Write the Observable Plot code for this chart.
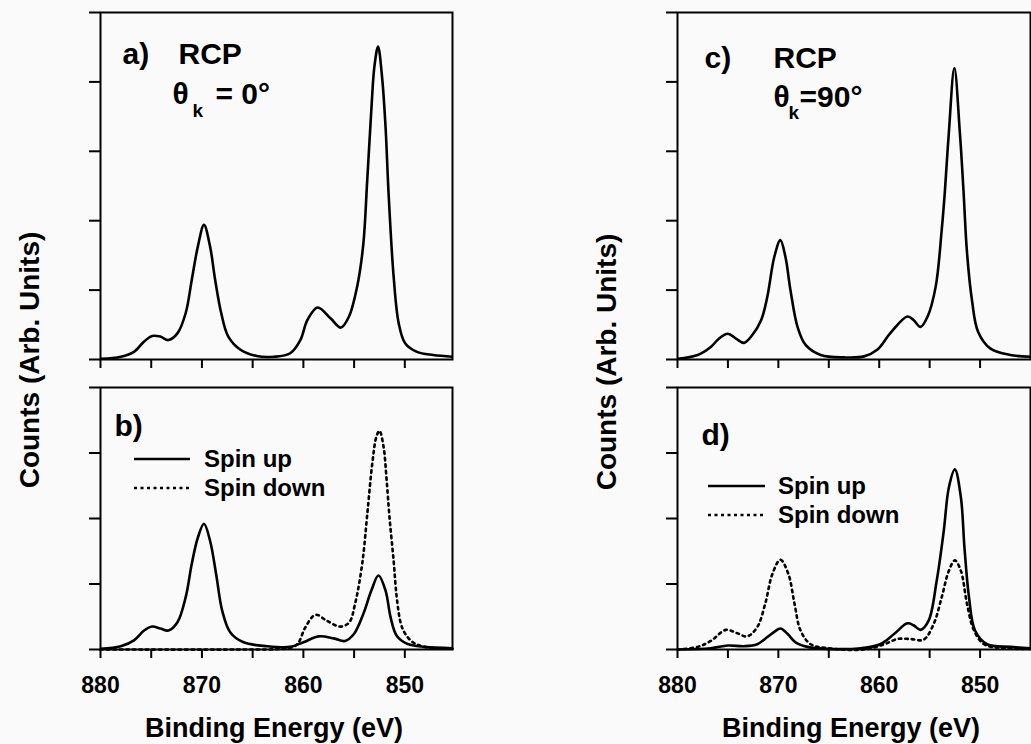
<!DOCTYPE html>
<html><head><meta charset="utf-8">
<script src="https://cdn.jsdelivr.net/npm/d3@7"></script>
<script src="https://cdn.jsdelivr.net/npm/@observablehq/plot@0.6"></script>
<style>
body{margin:0;background:#fafafa;}
#root{position:relative;width:1031px;height:744px;overflow:hidden;}
.panel{position:absolute;}
#overlay{position:absolute;left:0;top:0;pointer-events:none;}
</style></head><body><div id="root"></div>
<script>
// ---------- data (binding energy in eV, counts in arbitrary units) ----------
const xTicks = [880, 875, 870, 865, 860, 855, 850];
const yTicksTop = [0, 1, 2, 3, 4, 5];
const yTicksBottom = [0, 1, 2, 3, 4];

// a) RCP, theta_k = 0
const energyA = [880, 878.0, 876.7, 875.7, 874.9, 874.1, 873.3, 872.4, 871.6, 871.0, 870.4, 869.8, 869.2, 868.7, 868.1, 867.4, 866.2, 864.6, 862.9, 861.3, 860.3, 859.6, 858.6, 857.3, 856.3, 855.5, 854.7, 854.1, 853.7, 853.3, 853.0, 852.64, 852.25, 851.9, 851.6, 851.1, 850.6, 849.95, 848.8, 847.2, 845.3];
const countsA = [0.01, 0.04, 0.11, 0.26, 0.34, 0.33, 0.28, 0.38, 0.67, 1.15, 1.63, 1.94, 1.63, 1.15, 0.67, 0.33, 0.14, 0.05, 0.04, 0.09, 0.28, 0.57, 0.75, 0.59, 0.46, 0.62, 1.05, 1.65, 2.6, 3.6, 4.22, 4.51, 4.08, 3.35, 2.39, 1.19, 0.52, 0.23, 0.11, 0.065, 0.04];

// b) spin up / spin down, theta_k = 0
const energyBUp = [880, 878.0, 876.7, 875.7, 874.9, 874.1, 873.3, 872.4, 871.6, 871.0, 870.4, 869.8, 869.2, 868.6, 868.0, 867.2, 865.9, 863.6, 861.3, 860.0, 858.5, 857.0, 855.9, 855.0, 854.1, 853.3, 852.6, 851.9, 851.4, 850.8, 849.8, 848.1, 845.3];
const countsBUp = [0.01, 0.05, 0.14, 0.29, 0.35, 0.32, 0.29, 0.42, 0.80, 1.31, 1.71, 1.92, 1.66, 1.15, 0.59, 0.26, 0.11, 0.05, 0.04, 0.11, 0.20, 0.17, 0.13, 0.24, 0.54, 0.90, 1.13, 0.90, 0.49, 0.21, 0.09, 0.04, 0.02];
const energyBDown = [880, 866, 862, 861.0, 860.5, 859.8, 858.8, 857.7, 856.4, 855.5, 854.9, 854.2, 853.7, 853.2, 852.8, 852.5, 852.1, 851.8, 851.5, 851.1, 850.8, 850.4, 850.0, 849.2, 848.0, 845.3];
const countsBDown = [0.0, 0.0, 0.01, 0.04, 0.10, 0.34, 0.53, 0.44, 0.35, 0.41, 0.70, 1.31, 2.07, 2.85, 3.25, 3.34, 3.1, 2.6, 2.0, 1.35, 0.8, 0.4, 0.25, 0.11, 0.04, 0.01];

// c) RCP, theta_k = 90
const energyC = [880, 878.0, 876.7, 875.9, 875.0, 874.2, 873.4, 872.6, 871.7, 871.1, 870.4, 869.8, 869.3, 868.8, 868.1, 867.3, 865.8, 863.5, 861.5, 860.2, 858.9, 857.2, 856.6, 855.9, 855.2, 854.4, 853.8, 853.5, 853.1, 852.55, 852.0, 851.65, 851.3, 850.8, 850.2, 849.0, 847.0, 845.0];
const countsC = [0.01, 0.065, 0.18, 0.30, 0.37, 0.30, 0.24, 0.35, 0.57, 0.90, 1.48, 1.72, 1.48, 1.0, 0.47, 0.21, 0.065, 0.03, 0.045, 0.14, 0.38, 0.62, 0.57, 0.47, 0.62, 1.05, 1.87, 2.4, 3.26, 4.2, 3.26, 2.45, 1.55, 0.85, 0.4, 0.16, 0.065, 0.04];

// d) spin up / spin down, theta_k = 90
const energyDUp = [880, 876.7, 875.0, 873.4, 872.1, 871.1, 870.4, 869.8, 869.1, 868.3, 867.1, 865.1, 861.8, 859.9, 858.5, 857.2, 856.6, 855.9, 855.1, 854.3, 853.6, 853.1, 852.5, 851.9, 851.55, 851.1, 850.5, 849.3, 847.0, 845.0];
const countsDUp = [0.0, 0.02, 0.06, 0.05, 0.08, 0.19, 0.27, 0.32, 0.24, 0.11, 0.04, 0.01, 0.02, 0.08, 0.24, 0.40, 0.37, 0.30, 0.44, 1.05, 1.81, 2.47, 2.75, 2.32, 1.56, 0.8, 0.29, 0.08, 0.04, 0.02];
const energyDDown = [880, 878.0, 876.7, 875.2, 874.1, 873.1, 872.1, 871.3, 870.6, 869.8, 869.0, 868.4, 867.8, 866.8, 865.1, 861.5, 859.5, 858.2, 856.9, 855.6, 854.6, 853.8, 853.1, 852.5, 851.9, 851.3, 850.6, 849.6, 847.7, 845.0];
const countsDDown = [0.0, 0.04, 0.13, 0.30, 0.25, 0.20, 0.34, 0.70, 1.15, 1.37, 1.15, 0.70, 0.29, 0.08, 0.02, 0.0, 0.08, 0.16, 0.16, 0.15, 0.39, 0.80, 1.20, 1.36, 1.20, 0.70, 0.29, 0.08, 0.02, 0.01];

// text
const labelA = "a)", labelB = "b)", labelC = "c)", labelD = "d)";
const rcpText = "RCP";
const thetaSymbol = "θ", thetaSub = "k";
const thetaA = "= 0°", thetaC = "=90°";
const legendNames = ["Spin up", "Spin down"];
const xTitle = "Binding Energy (eV)";
const yTitle = "Counts (Arb. Units)";

// ---------- rendering ----------
const FONT = '"Liberation Sans", Arial, Helvetica, sans-serif';
const toRows = (E, V) => E.map((e, i) => ({E: e, v: V[i]}));
const root = document.getElementById("root");

function panel({left, top, width, height, margins, xDomain, yDomain, yTicks, showLabels, curves, notes}) {
  const [mt, mr, mb, ml] = margins;
  const marks = [
    Plot.axisY({ticks: yTicks, tickSize: 11, tickFormat: () => "", label: null, strokeWidth: 2}),
    Plot.axisX({ticks: xTicks, tickSize: 9, tickPadding: 18, label: null, strokeWidth: 2,
      tickFormat: d => (showLabels && d % 10 === 0) ? String(d) : ""}),
    ...curves.map(c => Plot.line(c.rows, {x: "E", y: "v", stroke: "black", strokeWidth: 2.6,
      curve: "catmull-rom", strokeDasharray: c.dash || null, strokeLinecap: c.dash ? "round" : "butt"})),
    Plot.frame({stroke: "black", strokeWidth: 2}),
    ...notes.map(n => Plot.text([n.text], {text: d => d, frameAnchor: "top-left", dx: n.dx, dy: n.dy,
      textAnchor: "start", lineAnchor: "bottom", fontSize: n.size, fontWeight: "bold", fontFamily: FONT, fill: "black"}))
  ];
  const svg = Plot.plot({
    width, height, marginTop: mt, marginRight: mr, marginBottom: mb, marginLeft: ml,
    x: {domain: xDomain}, y: {domain: yDomain},
    style: {background: "transparent", overflow: "visible", maxWidth: "none",
      fontFamily: FONT, fontWeight: "bold", fontSize: "23px", color: "black"},
    marks
  });
  const div = document.createElement("div");
  div.className = "panel";
  div.style.left = left + "px";
  div.style.top = top + "px";
  div.appendChild(svg);
  root.appendChild(div);
}

// top-left: a)
panel({left: 0, top: 0, width: 515, height: 373, margins: [12, 63, 14, 100],
  xDomain: [880, 845.3], yDomain: [0, 5], yTicks: yTicksTop, showLabels: false,
  curves: [{rows: toRows(energyA, countsA)}],
  notes: [
    {text: labelA, dx: 22, dy: 51, size: 30},
    {text: rcpText, dx: 78, dy: 51, size: 30},
    {text: thetaSymbol, dx: 72, dy: 91, size: 30},
    {text: thetaSub, dx: 92, dy: 104, size: 19},
    {text: thetaA, dx: 115, dy: 91, size: 30}
  ]});

// bottom-left: b)
panel({left: 0, top: 373, width: 515, height: 330, margins: [14, 63, 54, 100],
  xDomain: [880, 845.3], yDomain: [0, 4], yTicks: yTicksBottom, showLabels: true,
  curves: [{rows: toRows(energyBDown, countsBDown), dash: "2.5,4"}, {rows: toRows(energyBUp, countsBUp)}],
  notes: [{text: labelB, dx: 14, dy: 48, size: 30}]});

// top-right: c)
panel({left: 515, top: 0, width: 516, height: 373, margins: [12, 1, 14, 162],
  xDomain: [880, 845], yDomain: [0, 5], yTicks: yTicksTop, showLabels: false,
  curves: [{rows: toRows(energyC, countsC)}],
  notes: [
    {text: labelC, dx: 27, dy: 55, size: 30},
    {text: rcpText, dx: 96, dy: 55, size: 30},
    {text: thetaSymbol, dx: 96, dy: 94, size: 30},
    {text: thetaSub, dx: 111, dy: 106, size: 19},
    {text: thetaC, dx: 122, dy: 94, size: 30}
  ]});

// bottom-right: d)
panel({left: 515, top: 373, width: 516, height: 330, margins: [14, 1, 54, 162],
  xDomain: [880, 845], yDomain: [0, 4], yTicks: yTicksBottom, showLabels: true,
  curves: [{rows: toRows(energyDDown, countsDDown), dash: "2.5,4"}, {rows: toRows(energyDUp, countsDUp)}],
  notes: [{text: labelD, dx: 24, dy: 57, size: 30}]});

// ---------- axis titles and legends ----------
const ov = d3.select(root).append("svg").attr("id", "overlay").attr("width", 1031).attr("height", 744)
  .style("font-family", FONT).style("font-weight", "bold");

[[29, 360], [606, 362]].forEach(([cx, cy]) => {
  ov.append("text").attr("transform", `translate(${cx},${cy}) rotate(-90)`)
    .attr("text-anchor", "middle").attr("dominant-baseline", "central")
    .attr("font-size", 28).text(yTitle);
});
[[274, 737], [851, 737]].forEach(([cx, by]) => {
  ov.append("text").attr("x", cx).attr("y", by).attr("text-anchor", "middle")
    .attr("font-size", 27).text(xTitle);
});

function legend(x0, x1, tx, yUp, yDown) {
  const rows = [{y: yUp, dash: null, name: legendNames[0]}, {y: yDown, dash: "3,3.5", name: legendNames[1]}];
  rows.forEach(r => {
    ov.append("line").attr("x1", x0).attr("x2", x1).attr("y1", r.y).attr("y2", r.y)
      .attr("stroke", "black").attr("stroke-width", 2.4).attr("stroke-dasharray", r.dash);
    ov.append("text").attr("x", tx).attr("y", r.y + 8).attr("font-size", 24).text(r.name);
  });
}
legend(134, 190, 204, 459, 488);
legend(708, 765, 778, 486, 515);
</script></body></html>
